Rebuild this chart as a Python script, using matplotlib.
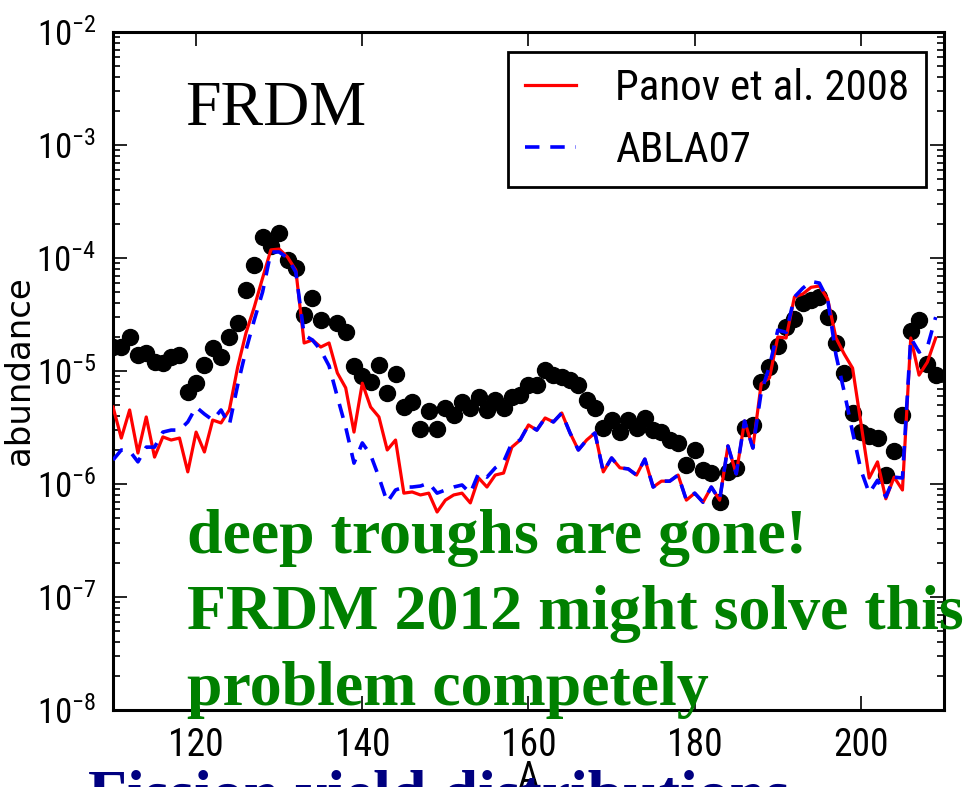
import matplotlib
matplotlib.use('Agg')
import matplotlib.pyplot as plt
from matplotlib import font_manager
from matplotlib.ticker import LogLocator, NullFormatter, FixedLocator

# mass numbers of the observed (solar) points, A=136 is not shown
dot_A = list(range(110, 136)) + list(range(137, 210))
dot_y = [1.63e-5, 1.63e-5, 2.0e-5, 1.39e-5, 1.44e-5, 1.20e-5, 1.18e-5, 1.33e-5, 1.39e-5, 6.5e-6,
         7.8e-6, 1.13e-5, 1.60e-5, 1.33e-5, 2.0e-5, 2.66e-5, 5.2e-5, 8.7e-5, 1.53e-4, 1.28e-4,
         1.66e-4, 9.6e-5, 8.2e-5, 3.13e-5, 4.43e-5, 2.83e-5,
         2.66e-5, 2.21e-5, 1.11e-5, 9.0e-6, 8.0e-6, 1.13e-5, 6.4e-6, 9.4e-6, 4.8e-6, 5.3e-6,
         3.07e-6, 4.43e-6, 3.07e-6, 4.7e-6, 4.08e-6, 5.3e-6, 4.7e-6, 5.9e-6, 4.5e-6, 5.5e-6,
         4.7e-6, 5.9e-6, 6.1e-6, 7.5e-6, 7.5e-6, 1.02e-5, 9.2e-6, 8.8e-6, 8.3e-6, 7.5e-6,
         5.5e-6, 4.7e-6, 3.13e-6, 3.68e-6, 2.88e-6, 3.68e-6, 3.13e-6, 3.84e-6, 3.0e-6, 2.88e-6,
         2.45e-6, 2.31e-6, 1.47e-6, 2.0e-6, 1.33e-6, 1.25e-6, 6.9e-7, 1.28e-6, 1.39e-6, 3.13e-6,
         3.33e-6, 8.0e-6, 1.08e-5, 1.66e-5, 2.45e-5, 2.88e-5, 4.0e-5, 4.25e-5, 4.52e-5, 3.0e-5,
         1.77e-5, 9.6e-6, 4.25e-6, 2.88e-6, 2.66e-6, 2.55e-6, 1.2e-6, 1.96e-6, 4.08e-6, 2.26e-5,
         2.83e-5, 1.15e-5, 9.2e-6]

# Panov et al. 2008
panov_A = list(range(110, 200)) + list(range(201, 210))
panov_y = [4.8e-6, 2.55e-6, 4.52e-6, 1.88e-6, 3.92e-6, 1.73e-6, 2.61e-6, 2.45e-6, 2.55e-6, 1.28e-6,
           2.88e-6, 1.92e-6, 3.68e-6, 3.47e-6, 4.52e-6, 1.08e-5, 2.17e-5, 3.68e-5, 6.65e-5, 1.18e-4,
           1.20e-4, 1.02e-4, 7.8e-5, 1.77e-5, 1.88e-5, 1.63e-5, 1.77e-5, 9.6e-6, 7.1e-6, 2.88e-6,
           7.8e-6, 4.8e-6, 3.92e-6, 2.0e-6, 2.45e-6, 8.3e-7, 8.5e-7, 8.0e-7, 8.3e-7, 5.65e-7,
           7.2e-7, 8.0e-7, 8.3e-7, 6.8e-7, 1.13e-6, 9.4e-7, 1.20e-6, 1.25e-6, 2.12e-6, 2.45e-6,
           3.33e-6, 3.0e-6, 3.84e-6, 3.54e-6, 4.25e-6, 2.83e-6, 2.0e-6, 2.45e-6, 2.83e-6, 1.28e-6,
           1.70e-6, 1.39e-6, 1.36e-6, 1.20e-6, 1.66e-6, 9.4e-7, 1.06e-6, 1.06e-6, 1.20e-6, 7.2e-7,
           8.3e-7, 6.9e-7, 9.4e-7, 7.2e-7, 2.17e-6, 1.23e-6, 3.61e-6, 2.08e-6, 7.7e-6, 8.7e-6,
           2.0e-5, 1.96e-5, 4.52e-5, 4.8e-5, 5.5e-5, 5.65e-5, 4.34e-5, 1.96e-5, 1.41e-5, 1.06e-5,
           1.13e-6, 1.57e-6, 7.4e-7, 1.15e-6, 8.85e-7, 1.96e-5, 9.2e-6, 1.20e-5, 1.96e-5]

# ABLA07
abla_A = list(range(110, 210))
abla_y = [1.63e-6, 2.0e-6, 1.96e-6, 1.57e-6, 2.12e-6, 2.12e-6, 2.88e-6, 3.0e-6, 3.0e-6, 3.54e-6,
          4.8e-6, 4.16e-6, 3.68e-6, 4.52e-6, 3.33e-6, 7.5e-6, 1.53e-5, 2.83e-5, 5.0e-5, 1.13e-4,
          1.13e-4, 1.0e-4, 7.5e-5, 2.08e-5, 1.88e-5, 1.53e-5, 1.11e-5, 5.9e-6, 3.19e-6, 1.53e-6,
          2.31e-6, 1.81e-6, 1.15e-6, 6.9e-7, 8.85e-7, 9.4e-7, 9.4e-7, 9.6e-7, 1.02e-6, 8.3e-7,
          8.85e-7, 9.4e-7, 9.8e-7, 8.3e-7, 1.25e-6, 1.15e-6, 1.39e-6, 1.57e-6, 2.31e-6, 2.45e-6,
          3.33e-6, 3.0e-6, 3.84e-6, 3.54e-6, 4.25e-6, 2.83e-6, 2.0e-6, 2.45e-6, 2.83e-6, 1.28e-6,
          1.70e-6, 1.39e-6, 1.36e-6, 1.20e-6, 1.66e-6, 9.4e-7, 1.06e-6, 1.06e-6, 1.20e-6, 7.2e-7,
          8.3e-7, 6.9e-7, 9.4e-7, 7.2e-7, 2.17e-6, 1.23e-6, 3.61e-6, 2.08e-6, 6.5e-6, 1.1e-5,
          2.3e-5, 2.2e-5, 4.52e-5, 5.4e-5, 6.2e-5, 6.0e-5, 4.3e-5, 1.39e-5, 6.5e-6, 2.88e-6,
          1.33e-6, 8.3e-7, 1.08e-6, 7.7e-7, 1.15e-6, 1.13e-6, 1.96e-5, 1.47e-5, 1.63e-5, 3.0e-5]

x_ticks = [120, 140, 160, 180, 200]
note_lines = ['deep troughs are gone!', 'FRDM 2012 might solve this', 'problem competely']

# the plot image in the slide is squeezed sideways, so prefer a narrow sans
names = {f.name for f in font_manager.fontManager.ttflist}
narrow = next((n for n in ['Liberation Sans Narrow', 'Roboto Condensed', 'Open Sans Condensed',
                           'Liberation Sans'] if n in names), 'DejaVu Sans')

plt.rcParams['font.family'] = [narrow, 'DejaVu Sans']
plt.rcParams['mathtext.fontset'] = 'custom'
plt.rcParams['mathtext.rm'] = narrow
plt.rcParams['mathtext.it'] = narrow
plt.rcParams['mathtext.bf'] = narrow

fig = plt.figure(figsize=(9.68, 7.87), dpi=100)
ax = fig.add_axes([113 / 968, 77 / 787, 831 / 968, 678 / 787])

ax.plot(dot_A, dot_y, 'o', color='black', markersize=11.5, zorder=2)
ax.plot(panov_A, panov_y, '-', color='red', lw=2.3, label='Panov et al. 2008', zorder=3)
ax.plot(abla_A, abla_y, '--', color='blue', lw=2.6, dashes=(4, 3), label='ABLA07', zorder=4)

ax.set_yscale('log')
ax.set_xlim(110, 210)
ax.set_ylim(1e-8, 1e-2)
ax.xaxis.set_major_locator(FixedLocator(x_ticks))
ax.yaxis.set_major_locator(LogLocator(base=10, numticks=10))
ax.yaxis.set_minor_locator(LogLocator(base=10, subs=range(2, 10), numticks=10))
ax.yaxis.set_minor_formatter(NullFormatter())
ax.tick_params(which='both', direction='in', top=True, right=True, width=1.2)
ax.tick_params(which='major', length=10)
ax.tick_params(which='minor', length=5)
ax.tick_params(axis='y', pad=12, labelsize=25)
ax.tick_params(axis='x', pad=12, labelsize=27)
for s in ax.spines.values():
    s.set_linewidth(2.2)

ax.set_ylabel('abundance', fontsize=24.5, family='DejaVu Sans')
ax.yaxis.set_label_coords(-0.093, 0.5)
ax.set_xlabel('A', fontsize=27)
ax.xaxis.set_label_coords(0.5, -0.074)
ax.xaxis.label.set_va('top')

leg = ax.legend(loc='upper right', bbox_to_anchor=(0.978, 0.9705), borderaxespad=0,
                fontsize=31, fancybox=False, handlelength=1.2, handletextpad=0.9,
                labelspacing=0.48, borderpad=0.38)
leg.get_frame().set_edgecolor('black')
leg.get_frame().set_linewidth(2.0)
leg.get_frame().set_alpha(1)

fig.text(185 / 968, 1 - 125 / 787, 'FRDM', fontsize=46, family='Liberation Serif',
         color='black', va='baseline')

for i, line in enumerate(note_lines):
    fig.text(187 / 968, 1 - (553 + 76 * i) / 787, line, fontsize=46, family='Liberation Serif',
             weight='bold', color='#008000', va='baseline')

fig.text(88 / 968, -27 / 787, 'Fission yield distributions', fontsize=46,
         family='Liberation Serif', weight='bold', color='#000080', va='baseline')

fig.savefig('out.png', dpi=100)
